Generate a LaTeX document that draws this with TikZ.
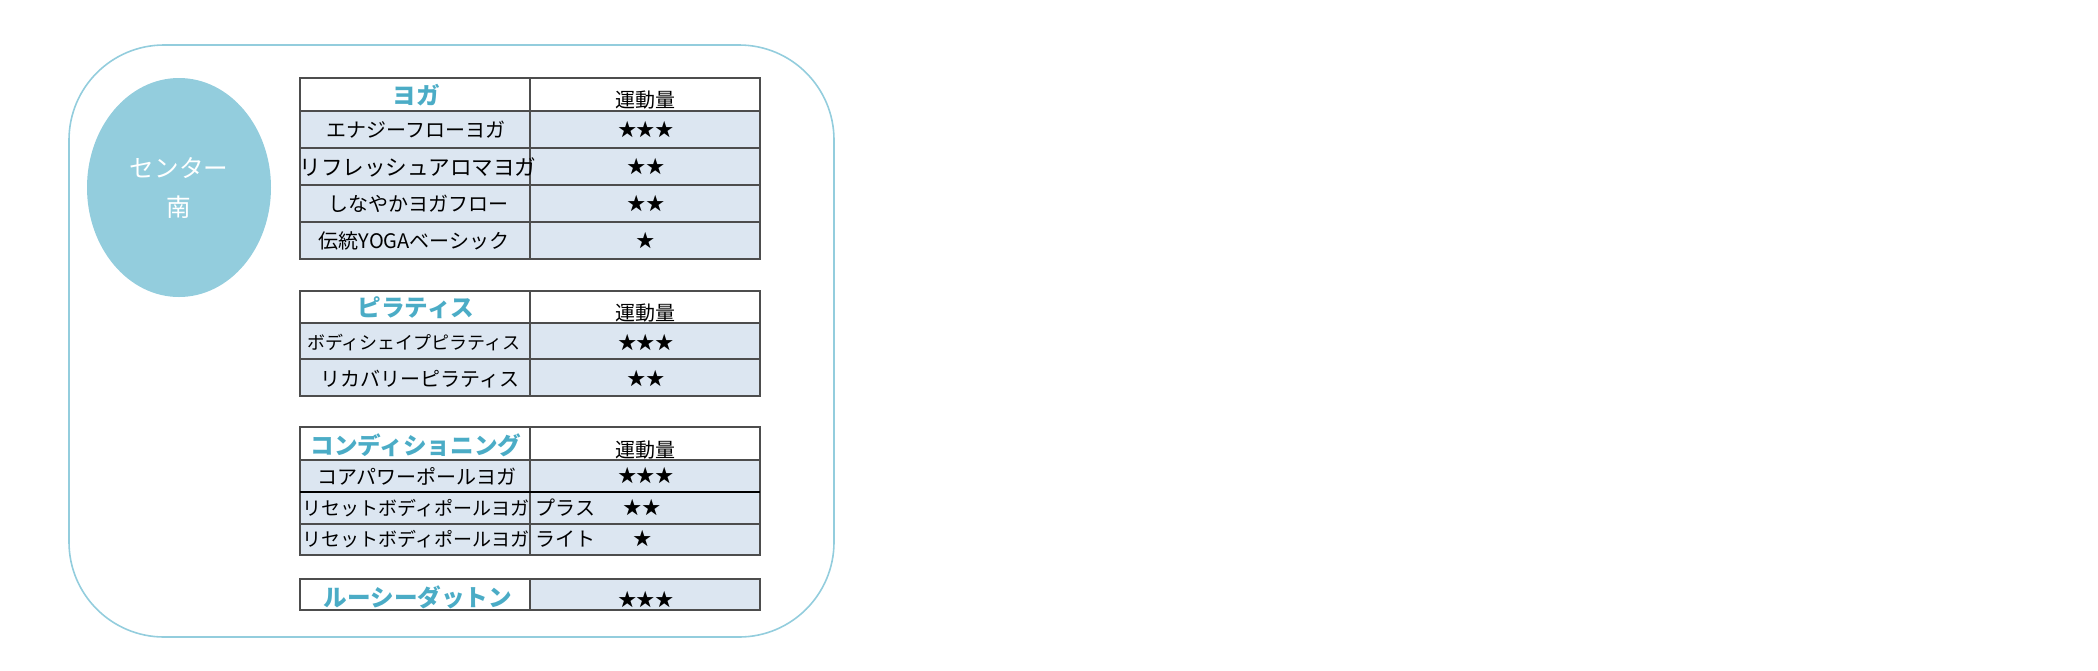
\documentclass[tikz,border=0pt]{standalone}
\usepackage{fontspec}
\setmainfont{Noto Sans CJK JP}
\usepackage{tikz}
\usetikzlibrary{shapes.geometric}

\definecolor{ringblue}{HTML}{93CDDD}
\definecolor{titleaqua}{HTML}{4BACC6}
\definecolor{cellfill}{HTML}{DCE6F1}
\definecolor{rulegray}{HTML}{4D4D4D}

\tikzset{
	gridline/.style={draw=rulegray, line width=1pt},
	titletext/.style={text=titleaqua, inner sep=0pt, font=\fontsize{11.8}{12}\selectfont\bfseries},
	headtext/.style={inner sep=0pt, font=\fontsize{10}{12}\selectfont},
	rowtext/.style={inner sep=0pt, font=\fontsize{10}{12}\selectfont},
	startext/.style={inner sep=0pt, font=\fontsize{9.2}{10}\selectfont},
}

\begin{document}
\begin{tikzpicture}[x=0.5pt, y=-0.5pt]
	
	% one unit = one pixel of the reference, y runs downwards
	\useasboundingbox (0,0) rectangle (2098,670);
	
	% outer frame and the badge on the left
	\draw[ringblue, line width=0.8pt, rounded corners=47.5pt] (69,45) rectangle (834,637);
	\node[ellipse, fill=ringblue, minimum width=92pt, minimum height=109.5pt, inner sep=0pt,
		text=white, align=center, font=\fontsize{12.3}{19.5}\selectfont] (Badge) at (179,187.5) {センター\\南};
	
	%%%%%%%%%%%%%%%%%%%%%%%%%%%%%%%%%%%%%%%%%%%%%%%%%%%%%%%%%%%%%%
	% YOGA table
	\fill[cellfill] (300,111) rectangle (760,259);
	\draw[gridline] (300,78) rectangle (760,259);
	\draw[gridline] (530,78) -- (530,259);
	\draw[gridline] (300,111) -- (760,111) (300,148) -- (760,148)
		(300,185) -- (760,185) (300,222) -- (760,222);
	
	\node[titletext] (YogaT) at (416,95) {ヨガ};
	\node[headtext] (YogaH) at (645,100) {運動量};
	\node[rowtext] (Yoga1) at (416,130) {エナジーフローヨガ};
	\node[rowtext, font=\fontsize{10.8}{12}\selectfont] (Yoga2) at (418,167) {リフレッシュアロマヨガ};
	\node[rowtext] (Yoga3) at (418,204) {しなやかヨガフロー};
	\node[rowtext] (Yoga4) at (414,241) {伝統YOGAベーシック};
	\node[startext] (YogaS1) at (646,130) {★★★};
	\node[startext] (YogaS2) at (646,167) {★★};
	\node[startext] (YogaS3) at (646,204) {★★};
	\node[startext] (YogaS4) at (646,241) {★};
	
	%%%%%%%%%%%%%%%%%%%%%%%%%%%%%%%%%%%%%%%%%%%%%%%%%%%%%%%%%%%%%%
	% PILATES table
	\fill[cellfill] (300,323) rectangle (760,396);
	\draw[gridline] (300,291) rectangle (760,396);
	\draw[gridline] (530,291) -- (530,396);
	\draw[gridline] (300,323) -- (760,323) (300,359) -- (760,359);
	
	\node[titletext] (PilaT) at (416,308) {ピラティス};
	\node[headtext] (PilaH) at (645,313) {運動量};
	\node[rowtext, font=\fontsize{9}{12}\selectfont] (Pila1) at (414,343) {ボディシェイプピラティス};
	\node[rowtext] (Pila2) at (420,379) {リカバリーピラティス};
	\node[startext] (PilaS1) at (646,343) {★★★};
	\node[startext] (PilaS2) at (646,379) {★★};
	
	%%%%%%%%%%%%%%%%%%%%%%%%%%%%%%%%%%%%%%%%%%%%%%%%%%%%%%%%%%%%%%
	% CONDITIONING table
	\fill[cellfill] (300,460) rectangle (760,555);
	\draw[gridline] (300,427) rectangle (760,555);
	\draw[gridline] (530,427) -- (530,555);
	\draw[gridline] (300,460) -- (760,460) (300,524) -- (760,524);
	\draw[black, line width=1.3pt] (300,492) -- (760,492);
	
	\node[titletext] (CondT) at (416,445) {コンディショニング};
	\node[headtext] (CondH) at (645,450) {運動量};
	\node[rowtext] (Cond1) at (417,476) {コアパワーポールヨガ};
	\node[rowtext, font=\fontsize{9.5}{12}\selectfont, anchor=west] (Cond2) at (302,508) {リセットボディポールヨガ};
	\node[rowtext, font=\fontsize{9.5}{12}\selectfont, anchor=west] (Cond3) at (302,539) {リセットボディポールヨガ};
	\node[rowtext, anchor=west] (Cond2b) at (535,508) {プラス};
	\node[rowtext, anchor=west] (Cond3b) at (535,539) {ライト};
	\node[startext] (CondS1) at (646,476) {★★★};
	\node[startext] (CondS2) at (642,508) {★★};
	\node[startext] (CondS3) at (643,539) {★};
	
	%%%%%%%%%%%%%%%%%%%%%%%%%%%%%%%%%%%%%%%%%%%%%%%%%%%%%%%%%%%%%%
	% RUSIE DATTON row
	\fill[cellfill] (530,579) rectangle (760,610);
	\draw[gridline] (300,579) rectangle (760,610);
	\draw[gridline] (530,579) -- (530,610);
	
	\node[titletext] (RusiT) at (418,597) {ルーシーダットン};
	\node[startext] (RusiS) at (646,600) {★★★};
	
\end{tikzpicture}
\end{document}
